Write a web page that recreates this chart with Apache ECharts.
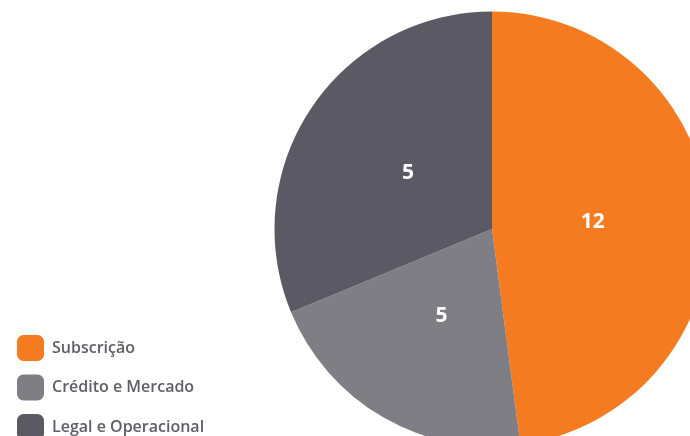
<!DOCTYPE html>
<html>
<head>
<meta charset="utf-8">
<script src="https://cdn.jsdelivr.net/npm/echarts@6/dist/echarts.min.js"></script>
<style>html,body{margin:0;padding:0;background:#fff}#c{width:690px;height:436px}</style>
</head>
<body>
<div id="c"></div>
<script>
var categories = ['Subscrição', 'Crédito e Mercado', 'Legal e Operacional'];
var shares = [23, 10, 15];
var labels = [12, 5, 5];
var colors = ['#F47B20', '#7E7E84', '#5B5A64'];

var pieData = categories.map(function (c, i) { return {name: c, value: shares[i]}; });

var chart = echarts.init(document.getElementById('c'), null, {renderer: 'canvas'});
chart.setOption({
  animation: false,
  color: colors,
  legend: {
    orient: 'vertical',
    left: 17,
    top: 335,
    height: 120,
    padding: 0,
    itemWidth: 27,
    itemHeight: 26,
    itemGap: 13.5,
    icon: 'roundRect',
    data: categories,
    textStyle: {color: '#5E5E66', fontSize: 16, fontWeight: 600, fontFamily: 'Open Sans', padding: [0, 0, 0, 3]}
  },
  series: [{
    type: 'pie',
    center: [492, 229],
    radius: [0, 217.5],
    startAngle: 90,
    clockwise: true,
    silent: true,
    label: {show: false},
    labelLine: {show: false},
    itemStyle: {borderWidth: 0},
    data: pieData
  }, {
    type: 'pie',
    center: [492, 229],
    radius: [0, 196],
    startAngle: 90,
    clockwise: true,
    silent: true,
    label: {
      show: true,
      position: 'inside',
      color: '#fff',
      fontSize: 21,
      fontWeight: 'bold',
      fontFamily: 'Open Sans',
      formatter: function (p) { return labels[p.dataIndex]; }
    },
    labelLine: {show: false},
    itemStyle: {color: 'rgba(0,0,0,0)', borderWidth: 0},
    data: pieData
  }]
});
</script>
</body>
</html>
